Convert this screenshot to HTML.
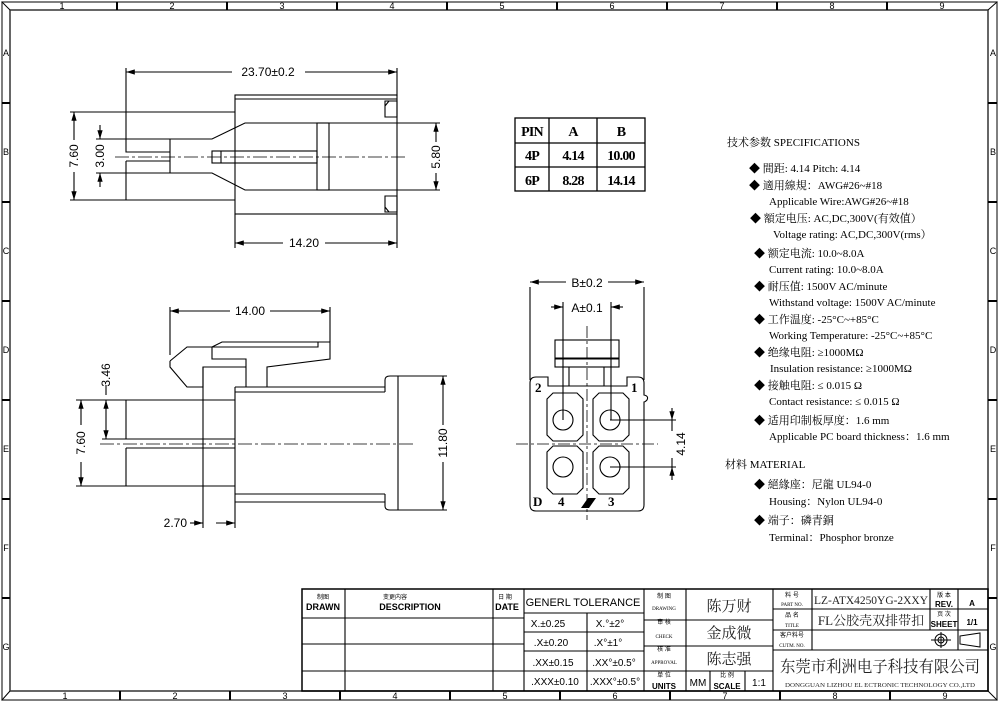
<!DOCTYPE html>
<html><head><meta charset="utf-8"><style>
html,body{margin:0;padding:0;background:#fff;}
svg{display:block;font-family:"Liberation Sans","Noto Sans CJK SC",sans-serif;}
.s{font-family:"Liberation Serif","Noto Serif CJK SC","Noto Sans CJK SC",serif;font-size:11px;white-space:pre;}
.d{font-size:12px;}
</style></head><body>
<svg width="1000" height="702" viewBox="0 0 1000 702" xmlns="http://www.w3.org/2000/svg">
<defs>
<marker id="a" viewBox="0 0 10 6" refX="10" refY="3" markerWidth="8" markerHeight="5" orient="auto-start-reverse"><path d="M0,0 L10,3 L0,6 z" fill="#000"/></marker>
</defs>
<g fill="none" stroke="#000" stroke-width="1">
<rect x="2" y="2" width="995" height="698" stroke="#555" stroke-width="1.5"/>
<rect x="10" y="10" width="978" height="681" stroke="#333" stroke-width="1.5"/>
<line x1="2" y1="2" x2="10" y2="10"/><line x1="997" y1="2" x2="988" y2="10"/>
<line x1="2" y1="700" x2="10" y2="691"/><line x1="997" y1="700" x2="988" y2="691"/>
<g stroke-width="2">
<path d="M117 2v8M227 2v8M337 2v8M447 2v8M557 2v8M667 2v8M777 2v8M887 2v8"/>
<path d="M120 691v9M230 691v9M340 691v9M450 691v9M560 691v9M670 691v9M780 691v9M890 691v9"/>
<path d="M2 103h8M2 202h8M2 301h8M2 400h8M2 499h8M2 598h8M988 103h9M988 202h9M988 301h9M988 400h9M988 499h9M988 598h9"/>
</g>
</g>
<g font-size="9" text-anchor="middle">
<text x="62" y="9">1</text><text x="172" y="9">2</text><text x="282" y="9">3</text><text x="392" y="9">4</text><text x="502" y="9">5</text><text x="612" y="9">6</text><text x="722" y="9">7</text><text x="832" y="9">8</text><text x="942" y="9">9</text>
<text x="65" y="699">1</text><text x="175" y="699">2</text><text x="285" y="699">3</text><text x="395" y="699">4</text><text x="505" y="699">5</text><text x="615" y="699">6</text><text x="725" y="699">7</text><text x="835" y="699">8</text><text x="945" y="699">9</text>
<text x="6" y="56">A</text><text x="6" y="155">B</text><text x="6" y="254">C</text><text x="6" y="353">D</text><text x="6" y="452">E</text><text x="6" y="551">F</text><text x="6" y="650">G</text>
<text x="993" y="56">A</text><text x="993" y="155">B</text><text x="993" y="254">C</text><text x="993" y="353">D</text><text x="993" y="452">E</text><text x="993" y="551">F</text><text x="993" y="650">G</text>
</g>

<!-- TOP VIEW -->
<g fill="none" stroke="#000" stroke-width="1.1">
<path d="M126 68V112M397 68V96"/>
<line x1="126" y1="72" x2="232" y2="72" marker-start="url(#a)"/><line x1="305" y1="72" x2="397" y2="72" marker-end="url(#a)"/>
<rect x="235" y="95" width="162" height="119"/>
<line x1="235" y1="99" x2="397" y2="99"/>
<path d="M126 112H235M126 112V152H170M126 161H170M126 161V200H235"/>
<path d="M170 139H212L245 123H397M170 173H212L245 190H397M170 139V173"/>
<rect x="317" y="123" width="12" height="67"/>
<rect x="212" y="151" width="105" height="12"/><line x1="221" y1="151" x2="221" y2="163"/>
<path d="M385 101H397V117H385ZM389 101L385 106M385 196H397V212H385ZM389 212L385 207"/>
<path d="M115 157H405" stroke-dasharray="14 3 3 3" stroke-width="0.8"/>
<path d="M70 112H126M70 200H126"/>
<line x1="74" y1="112" x2="74" y2="140" marker-start="url(#a)"/><line x1="74" y1="172" x2="74" y2="200" marker-end="url(#a)"/>
<path d="M96 139H170M96 173H170"/>
<line x1="100" y1="125" x2="100" y2="139" marker-end="url(#a)"/><line x1="100" y1="187" x2="100" y2="173" marker-end="url(#a)"/>
<path d="M397 123H440M397 190H440"/>
<line x1="436" y1="123" x2="436" y2="142" marker-start="url(#a)"/><line x1="436" y1="173" x2="436" y2="190" marker-end="url(#a)"/>
<path d="M235 214V248M397 214V248"/>
<line x1="235" y1="243" x2="283" y2="243" marker-start="url(#a)"/><line x1="325" y1="243" x2="397" y2="243" marker-end="url(#a)"/>
</g>
<text x="268" y="76" class="d" text-anchor="middle">23.70±0.2</text>
<text x="304" y="247" class="d" text-anchor="middle">14.20</text>
<text class="d" transform="translate(78,156) rotate(-90)" text-anchor="middle">7.60</text>
<text class="d" transform="translate(104,156) rotate(-90)" text-anchor="middle">3.00</text>
<text class="d" transform="translate(440,157) rotate(-90)" text-anchor="middle">5.80</text>

<!-- SIDE VIEW -->
<g fill="none" stroke="#000" stroke-width="1.1">
<path d="M170 307V355M330 307V342"/>
<line x1="170" y1="311" x2="230" y2="311" marker-start="url(#a)"/><line x1="270" y1="311" x2="330" y2="311" marker-end="url(#a)"/>
<path d="M170 361L187 347H212V359H246V387"/>
<path d="M170 361V367L187 387H203V367H246"/>
<path d="M212 347L222 342H330V359L267 367V387"/>
<path d="M212 347H318V342"/>
<path d="M235 387H385M235 392H385M235 494H385M235 502H385M235 387V502"/>
<path d="M385 392V380Q385 376 390 376H398V510H390Q385 510 385 506V494"/>
<path d="M126 400H235M126 400V439H235M126 448H235M126 448V486H235"/>
<path d="M100 444H415" stroke-dasharray="14 3 3 3" stroke-width="0.8"/>
<path d="M203 367V528M235 502V528"/>
<line x1="216" y1="523" x2="235" y2="523" marker-end="url(#a)"/><line x1="190" y1="523" x2="203" y2="523" marker-end="url(#a)"/>
<path d="M76 400H126M76 486H126M102 439H126"/>
<line x1="81" y1="400" x2="81" y2="425" marker-start="url(#a)"/><line x1="81" y1="462" x2="81" y2="486" marker-end="url(#a)"/>
<line x1="106" y1="400" x2="106" y2="439" marker-start="url(#a)" marker-end="url(#a)"/>
<line x1="106" y1="395" x2="106" y2="385"/>
<path d="M398 376H447M398 510H447"/>
<line x1="443" y1="376" x2="443" y2="425" marker-start="url(#a)"/><line x1="443" y1="462" x2="443" y2="510" marker-end="url(#a)"/>
</g>
<text x="250" y="315" class="d" text-anchor="middle">14.00</text>
<text x="187" y="527" class="d" text-anchor="end">2.70</text>
<text class="d" transform="translate(85,443) rotate(-90)" text-anchor="middle">7.60</text>
<text class="d" transform="translate(110,375) rotate(-90)" text-anchor="middle">3.46</text>
<text class="d" transform="translate(447,443) rotate(-90)" text-anchor="middle">11.80</text>

<!-- PIN TABLE -->
<g fill="none" stroke="#000" stroke-width="1.3">
<rect x="515" y="118" width="130" height="73"/>
<path d="M515 143H645M515 167H645M549 118V191M597 118V191"/>
</g>
<g class="s" text-anchor="middle" font-weight="bold" letter-spacing="-0.8" style="font-size:14px">
<text x="532" y="136">PIN</text><text x="573" y="136">A</text><text x="621" y="136">B</text>
<text x="532" y="160">4P</text><text x="573" y="160">4.14</text><text x="621" y="160">10.00</text>
<text x="532" y="185">6P</text><text x="573" y="185">8.28</text><text x="621" y="185">14.14</text>
</g>

<!-- FRONT VIEW -->
<g fill="none" stroke="#000" stroke-width="1.1">
<path d="M530 380V287M644 380V287"/>
<line x1="530" y1="282" x2="566" y2="282" marker-start="url(#a)"/><line x1="608" y1="282" x2="644" y2="282" marker-end="url(#a)"/>
<path d="M563 302V420M611 302V420"/>
<line x1="551" y1="307" x2="563" y2="307" marker-end="url(#a)"/><line x1="623" y1="307" x2="611" y2="307" marker-end="url(#a)"/>
<path d="M536 377H548V386H627V377H638Q644 377 644 383V395Q649 396 647 400Q645 402 644 402V505Q644 511 638 511H536Q530 511 530 505V383Q530 377 536 377Z"/>
<rect x="555" y="340" width="64" height="27"/>
<path d="M555 358H619M555 359H619M569 367V386M604 367V386"/>
<path d="M547 399L553 393H577L583 399V435L577 441H553L547 435Z"/>
<path d="M593 399L599 393H623L629 399V435L623 441H599L593 435Z"/>
<path d="M547 452L553 446H577L583 452V488L577 494H553L547 488Z"/>
<path d="M593 452L599 446H623L629 452V488L623 494H599L593 488Z"/>
<circle cx="563" cy="420" r="10"/><circle cx="610" cy="420" r="10"/>
<circle cx="563" cy="467" r="10"/><circle cx="610" cy="467" r="10"/>
<path d="M587 326V520M516 444H658" stroke-dasharray="12 3 3 3" stroke-width="0.8"/>
<path d="M610 420H676M610 467H676"/>
<line x1="672" y1="408" x2="672" y2="420" marker-end="url(#a)"/><line x1="672" y1="480" x2="672" y2="467" marker-end="url(#a)"/>
<path d="M672 420V431M672 458V467"/>
</g>
<path d="M581 508L588 498H596L589 508Z" fill="#000"/>
<g class="s" font-weight="bold" style="font-size:13px">
<text x="535" y="392">2</text><text x="631" y="392">1</text>
<text x="533" y="506">D</text><text x="558" y="506">4</text><text x="608" y="506">3</text>
</g>
<text x="587" y="287" class="d" text-anchor="middle">B±0.2</text>
<text x="587" y="312" class="d" text-anchor="middle">A±0.1</text>
<text class="d" transform="translate(685,444) rotate(-90)" text-anchor="middle">4.14</text>

<!-- SPECS -->
<g class="s">
<text x="727" y="146">技术参数  SPECIFICATIONS</text>
<text x="749" y="172">◆  間距: 4.14      Pitch: 4.14</text>
<text x="749" y="189">◆  適用線規：AWG#26~#18</text>
<text x="769" y="205">Applicable Wire:AWG#26~#18</text>
<text x="750" y="222">◆  額定电压: AC,DC,300V(有效值）</text>
<text x="773" y="238">Voltage rating: AC,DC,300V(rms）</text>
<text x="754" y="257">◆ 额定电流: 10.0~8.0A</text>
<text x="769" y="273">Current rating: 10.0~8.0A</text>
<text x="754" y="290">◆  耐压值: 1500V AC/minute</text>
<text x="769" y="306">Withstand voltage: 1500V AC/minute</text>
<text x="754" y="323">◆  工作温度: -25°C~+85°C</text>
<text x="769" y="339">Working Temperature: -25°C~+85°C</text>
<text x="754" y="356">◆  绝缘电阻: ≥1000MΩ</text>
<text x="770" y="372">Insulation resistance:  ≥1000MΩ</text>
<text x="754" y="389">◆  接触电阻: ≤ 0.015 Ω</text>
<text x="769" y="405">Contact resistance: ≤ 0.015 Ω</text>
<text x="754" y="424">◆  适用印制板厚度：1.6 mm</text>
<text x="769" y="440">Applicable PC board thickness：1.6 mm</text>
<text x="725" y="468">材料   MATERIAL</text>
<text x="754" y="488">◆  絕緣座：尼龍  UL94-0</text>
<text x="769" y="505">Housing：Nylon  UL94-0</text>
<text x="754" y="524">◆  端子：磷青銅</text>
<text x="769" y="541">Terminal：Phosphor bronze</text>
</g>

<!-- TITLE BLOCK -->
<g fill="none" stroke="#000" stroke-width="1.1">
<rect x="302" y="589" width="686" height="102" stroke-width="1.5"/>
<path d="M302 618H524M302 644H524M302 671H524"/>
<path d="M345 589V691M493 589V691M524 589V691"/>
<path d="M524 613H644M524 632H644M524 651H644M524 671H644M587 613V691M644 589V691"/>
<path d="M644 620H773M644 646H773M644 671H773M686 589V691M686 671V691M710 671V691M745 671V691M773 589V691"/>
<path d="M773 609H988M773 630H988M773 650H988M812 589V650M930 589V630M958 589V650"/>
</g>
<g font-size="6" text-anchor="middle">
<text x="323" y="599">制图</text><text x="395" y="599">变更内容</text><text x="505" y="599">日 期</text>
<text x="664" y="598">制  图</text><text x="664" y="624">审  核</text><text x="664" y="651">核  准</text><text x="664" y="677">单 位</text>
<text x="727" y="677">比 例</text>
<text x="792" y="597">料 号</text><text x="792" y="617">品 名</text><text x="792" y="637">客户料号</text>
<text x="944" y="597">版 本</text><text x="944" y="616">页 次</text>
</g>
<g class="s" text-anchor="middle" style="font-size:5px">
<text x="664" y="610">DRAWING</text><text x="664" y="638">CHECK</text><text x="664" y="664">APPROVAL</text>
<text x="792" y="606">PART NO.</text><text x="792" y="627">TITLE</text><text x="792" y="647">CUTM. NO.</text>
</g>
<g font-size="9" text-anchor="middle" font-weight="bold">
<text x="323" y="610">DRAWN</text><text x="410" y="610">DESCRIPTION</text><text x="507" y="610">DATE</text>
<text x="664" y="689" font-size="8">UNITS</text><text x="727" y="689" font-size="8">SCALE</text>
<text x="944" y="607" font-size="8">REV.</text><text x="944" y="627" font-size="8">SHEET</text>
<text x="972" y="606" font-size="8">A</text><text x="972" y="625" font-size="8">1/1</text>
</g>
<g font-size="11" text-anchor="middle">
<text x="583" y="606">GENERL  TOLERANCE</text>
<text x="548" y="627" font-size="10">X.±0.25</text><text x="610" y="627" font-size="10">X.°±2°</text>
<text x="551" y="646" font-size="10">.X±0.20</text><text x="608" y="646" font-size="10">.X°±1°</text>
<text x="553" y="666" font-size="10">.XX±0.15</text><text x="614" y="666" font-size="10">.XX°±0.5°</text>
<text x="555" y="685" font-size="10">.XXX±0.10</text><text x="615" y="685" font-size="10">.XXX°±0.5°</text>
<text x="698" y="686" font-size="10">MM</text><text x="759" y="686" font-size="10">1:1</text>
</g>
<g class="s" text-anchor="middle" fill="#222">
<text x="729" y="611" style="font-size:15px">陈万财</text>
<text x="729" y="638" style="font-size:15px">金成微</text>
<text x="729" y="664" style="font-size:15px">陈志强</text>
<text x="871" y="604" style="font-size:12px" textLength="114" lengthAdjust="spacingAndGlyphs">LZ-ATX4250YG-2XXY</text>
<text x="871" y="625" style="font-size:13px">FL公胶壳双排带扣</text>
<text x="880" y="672" style="font-size:16px" textLength="200" lengthAdjust="spacingAndGlyphs">东莞市利洲电子科技有限公司</text>
<text x="880" y="687" style="font-size:6px" textLength="190" lengthAdjust="spacingAndGlyphs">DONGGUAN LIZHOU EL ECTRONIC TECHNOLOGY CO.,LTD</text>
</g>
<g fill="none" stroke="#000" stroke-width="1">
<circle cx="941" cy="640" r="6"/><circle cx="941" cy="640" r="3"/>
<path d="M931 640H951M941 632V648"/>
<path d="M960 636L980 633V647L960 644Z"/>
</g>
</svg>
</body></html>
